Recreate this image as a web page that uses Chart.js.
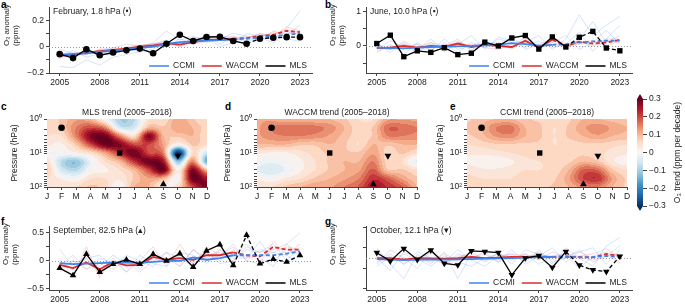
<!DOCTYPE html>
<html>
<head>
<meta charset="utf-8">
<script src="https://cdn.jsdelivr.net/npm/chart.js@4.4.1/dist/chart.umd.min.js"></script>
<style>
  body { margin: 0; width: 685px; height: 308px; overflow: hidden; position: relative; background: #fff;
         font-family: "Liberation Sans", Arial, sans-serif; }
  canvas { position: absolute; }
  .lbl { position: absolute; font-weight: bold; font-size: 10px; line-height: 10px; color: #000; }
</style>
</head>
<body>
<div class="lbl" style="left:1px;top:0px">a</div>
<div class="lbl" style="left:325px;top:0px">b</div>
<div class="lbl" style="left:1px;top:102px">c</div>
<div class="lbl" style="left:225px;top:102px">d</div>
<div class="lbl" style="left:450px;top:102px">e</div>
<div class="lbl" style="left:1px;top:217px">f</div>
<div class="lbl" style="left:325px;top:217px">g</div>

<canvas id="pa" width="318" height="92" style="left:0;top:0"></canvas>
<canvas id="pb" width="321" height="92" style="left:317px;top:0"></canvas>
<canvas id="pc" width="214" height="102" style="left:0;top:104px"></canvas>
<canvas id="pd" width="214" height="102" style="left:212px;top:104px"></canvas>
<canvas id="pe" width="204" height="102" style="left:430px;top:104px"></canvas>
<canvas id="cb" width="55" height="130" style="left:630px;top:85px"></canvas>
<canvas id="pf" width="318" height="89" style="left:0;top:219px"></canvas>
<canvas id="pg" width="321" height="89" style="left:317px;top:219px"></canvas>

<script>
// ---------- line panels: data ----------
const years = [2005, 2006, 2007, 2008, 2009, 2010, 2011, 2012, 2013, 2014, 2015, 2016, 2017, 2018, 2019, 2020, 2021, 2022, 2023];
const xTicks = [2005, 2008, 2011, 2014, 2017, 2020, 2023];

// a: February, 1.8 hPa
const mlsA   = [-0.057, -0.087, -0.02, -0.065, -0.045, -0.028, -0.015, -0.05, 0.022, 0.09, 0.043, 0.073, 0.075, 0.043, 0.022, 0.06, 0.068, 0.072, 0.072];
const ccmiA  = [-0.06, -0.055, -0.05, -0.04, -0.03, -0.02, -0.01, 0.0, 0.02, 0.035, 0.04, 0.045, 0.05, 0.055, 0.06, 0.07, 0.08, 0.09, 0.1];
const waccmA = [-0.07, -0.06, -0.045, -0.035, -0.025, -0.015, 0.0, 0.01, 0.025, 0.015, 0.035, 0.05, 0.055, 0.06, 0.065, 0.08, 0.09, 0.12, 0.11];
const ccmiMembersA = [
  [-0.15, -0.16, -0.1, -0.14, -0.08, -0.06, -0.04, -0.02, 0.03, 0.02, 0.06, 0.08, 0.02, 0.07, 0.06, 0.1, 0.05, 0.14, 0.27],
  [-0.02, -0.05, -0.06, -0.02, -0.01, 0.02, 0.0, 0.03, 0.12, 0.05, 0.08, 0.03, 0.06, 0.1, 0.08, 0.04, 0.12, 0.09, 0.16],
  [-0.07, -0.03, -0.08, -0.05, -0.04, -0.03, -0.02, 0.0, 0.0, 0.06, 0.02, 0.07, 0.0, 0.03, 0.1, 0.08, 0.1, 0.06, 0.04],
  [-0.05, -0.09, -0.04, -0.06, -0.06, -0.01, -0.04, 0.02, 0.05, 0.0, 0.07, 0.05, 0.09, 0.06, 0.04, 0.07, 0.03, 0.1, 0.12]
];
const waccmMembersA = [
  [-0.09, -0.05, -0.06, -0.02, -0.03, -0.02, 0.01, 0.02, 0.04, 0.0, 0.05, 0.07, 0.06, 0.08, 0.06, 0.1, 0.08, 0.15, 0.12],
  [-0.05, -0.08, -0.03, -0.05, -0.01, -0.03, -0.01, 0.0, 0.01, 0.03, 0.02, 0.04, 0.05, 0.05, 0.08, 0.07, 0.11, 0.1, 0.1],
  [-0.07, -0.06, -0.05, -0.04, -0.04, 0.0, 0.01, 0.02, 0.03, 0.02, 0.04, 0.06, 0.05, 0.04, 0.07, 0.09, 0.09, 0.13, 0.09]
];

// b: June, 10.0 hPa
const mlsB   = [0.07, 0.31, -0.31, -0.14, -0.185, -0.05, -0.25, -0.21, 0.11, 0.0, 0.23, 0.3, -0.09, 0.26, -0.03, 0.25, 0.42, -0.06, -0.14];
const ccmiB  = [-0.05, -0.06, -0.07, -0.05, -0.03, -0.02, -0.01, 0.0, 0.02, 0.04, 0.08, 0.05, 0.01, 0.03, 0.05, 0.1, 0.13, 0.15, 0.16];
const waccmB = [-0.06, -0.05, 0.0, -0.05, 0.0, -0.03, 0.07, -0.03, 0.03, 0.0, -0.03, 0.15, -0.05, 0.18, 0.0, 0.12, 0.07, 0.1, 0.17];
const ccmiMembersB = [
  [0.1, -0.2, 0.15, -0.1, 0.2, -0.15, 0.05, 0.3, -0.1, 0.25, 0.15, 0.1, 0.3, -0.1, 0.2, 0.9, 0.3, 0.6, 0.85],
  [-0.2, 0.05, -0.25, 0.1, -0.15, 0.2, -0.1, 0.0, 0.15, -0.05, 0.3, -0.1, 0.05, 0.2, -0.05, 0.2, 0.7, 0.1, 0.3],
  [0.0, -0.1, 0.05, -0.2, 0.1, 0.0, 0.2, -0.15, 0.1, 0.05, -0.05, 0.25, -0.1, 0.1, 0.3, -0.1, 0.1, 0.45, 0.05],
  [-0.1, 0.15, -0.05, 0.05, -0.25, 0.1, -0.2, 0.1, -0.05, 0.2, 0.1, -0.05, 0.15, -0.05, 0.05, 0.4, -0.15, 0.2, 0.6]
];
const waccmMembersB = [
  [0.05, -0.1, 0.1, -0.15, 0.05, -0.05, 0.15, -0.1, 0.05, 0.1, -0.1, 0.2, -0.1, 0.25, 0.05, 0.15, 0.0, 0.2, 0.2],
  [-0.15, 0.0, -0.05, 0.05, -0.1, 0.05, 0.0, 0.05, -0.05, -0.1, 0.05, 0.1, 0.0, 0.1, -0.05, 0.1, 0.15, 0.0, 0.15],
  [-0.05, -0.1, 0.05, -0.05, 0.1, -0.15, 0.1, -0.05, 0.1, 0.0, -0.05, 0.15, -0.05, 0.2, 0.0, 0.05, 0.1, 0.15, 0.1]
];

// f: September, 82.5 hPa
const mlsF   = [-0.13, -0.26, 0.12, -0.2, -0.06, 0.02, -0.06, 0.12, 0.0, 0.13, -0.11, 0.18, 0.29, -0.08, 0.46, -0.05, 0.03, -0.02, 0.1];
const ccmiF  = [-0.04, -0.06, -0.05, -0.04, -0.03, -0.03, -0.03, -0.02, 0.0, 0.0, 0.06, 0.02, 0.05, 0.1, 0.1, 0.1, 0.1, 0.13, 0.17];
const waccmF = [-0.07, -0.13, -0.03, -0.15, -0.02, -0.08, -0.07, 0.07, 0.02, 0.05, 0.02, 0.1, 0.1, 0.15, 0.1, 0.08, 0.25, 0.2, 0.2];
const ccmiMembersF = [
  [0.2, -0.1, 0.1, -0.15, 0.0, -0.2, 0.1, -0.05, -0.1, 0.15, 0.1, -0.05, 0.2, 0.1, 0.3, 0.05, -0.1, 0.3, 0.5],
  [-0.1, 0.1, -0.15, 0.05, -0.05, 0.05, -0.15, 0.1, 0.05, -0.1, 0.2, 0.0, 0.1, 0.25, 0.0, 0.2, 0.15, 0.1, -0.05],
  [0.0, -0.15, 0.05, 0.1, -0.1, 0.1, 0.0, -0.1, 0.15, 0.05, 0.0, 0.15, -0.05, 0.0, 0.2, 0.15, 0.3, 0.0, 0.25],
  [-0.15, 0.0, -0.05, -0.1, 0.1, -0.05, -0.05, 0.05, -0.05, 0.1, -0.05, 0.1, 0.15, 0.05, 0.05, 0.35, 0.0, 0.2, 0.1]
];
const waccmMembersF = [
  [0.05, -0.3, 0.25, -0.3, 0.05, -0.2, 0.0, 0.25, -0.1, 0.3, -0.05, 0.25, 0.1, 0.3, 0.0, -0.05, 0.35, 0.1, 0.3],
  [-0.2, 0.0, -0.15, -0.05, -0.15, 0.0, -0.2, 0.0, 0.15, -0.1, 0.2, 0.05, 0.2, 0.0, 0.25, 0.15, 0.2, 0.3, 0.1],
  [-0.05, -0.15, 0.05, -0.25, 0.0, -0.1, -0.05, 0.1, 0.0, 0.05, -0.1, 0.15, 0.0, 0.2, 0.05, 0.1, 0.15, 0.25, 0.2]
];

// g: October, 12.1 hPa
const mlsG   = [0.26, -0.15, 0.46, -0.08, 0.38, -0.26, -0.34, 0.35, 0.31, 0.26, -0.82, 0.0, 0.12, -0.46, 0.31, -0.35, -0.58, -0.66, 0.08];
const ccmiG  = [-0.05, -0.08, -0.1, -0.08, -0.06, -0.08, -0.06, -0.05, -0.03, -0.02, 0.0, 0.02, 0.05, 0.05, 0.05, 0.04, 0.05, 0.1, 0.05];
const waccmG = [0.0, 0.0, -0.08, 0.0, -0.02, -0.03, 0.0, 0.05, 0.0, 0.02, 0.05, 0.05, 0.08, 0.05, 0.08, 0.05, 0.03, 0.2, 0.1];
const ccmiMembersG = [
  [0.5, -0.3, -1.0, 0.2, -0.3, 0.3, -1.0, 0.2, -0.2, 0.3, -0.3, 0.4, 0.2, -0.3, 0.5, 0.0, -0.4, 0.6, 1.0],
  [-0.3, 0.4, 0.0, -0.5, 0.3, -0.4, 0.2, 0.0, 0.3, -0.2, 0.4, -0.3, 0.1, 0.5, -0.2, 0.3, 0.5, -0.3, 0.4],
  [0.0, -0.6, 0.3, 0.0, -0.4, 0.1, -0.2, -0.4, 0.0, 0.2, -0.1, 0.2, -0.3, 0.1, 0.2, -0.5, 0.1, 0.3, -0.2],
  [-0.4, 0.1, -0.3, 0.3, 0.0, -0.2, 0.4, -0.1, -0.4, 0.1, 0.2, -0.2, 0.4, -0.2, 0.0, 0.4, -0.2, 0.1, 0.6]
];
const waccmMembersG = [
  [0.2, -0.1, 0.0, -0.2, 0.3, -0.1, 0.0, 0.3, -0.1, 0.2, 0.0, 0.2, -0.1, 0.3, 0.0, 0.1, 0.2, 0.45, 0.0],
  [-0.2, 0.2, -0.3, 0.1, -0.2, 0.2, -0.1, 0.0, 0.2, -0.2, 0.1, -0.1, 0.3, -0.1, 0.2, 0.0, -0.1, 0.1, 0.2],
  [0.1, -0.2, 0.2, -0.1, 0.0, -0.3, 0.1, 0.1, -0.1, 0.0, 0.2, 0.1, 0.0, 0.1, 0.1, 0.3, 0.0, 0.2, -0.3]
];

// ---------- trend maps: data ----------
const months = ['J', 'F', 'M', 'A', 'M', 'J', 'J', 'A', 'S', 'O', 'N', 'D'];
const levels = [1, 1.78, 3.16, 5.62, 10, 17.8, 31.6, 56.2, 100];   // hPa, rows of the grids below
const pressureTicks = [1, 2, 3, 4, 5, 6, 7, 8, 9, 10, 20, 30, 40, 50, 60, 70, 80, 90, 100];
const pressureLabels = { 1: '10⁰', 10: '10¹', 100: '10²' };

const mlsTrend = [
  [0.06, 0.08, 0.12, 0.10, 0.00, -0.10, -0.08, 0.05, 0.05, 0.12, 0.08, 0.05],
  [0.06, 0.08, 0.15, 0.20, 0.15, -0.05, -0.05, 0.10, 0.08, 0.12, 0.10, 0.06],
  [0.05, 0.05, 0.15, 0.28, 0.30, 0.15, 0.05, 0.28, 0.10, 0.08, 0.10, 0.05],
  [0.03, 0.02, 0.08, 0.20, 0.30, 0.28, 0.20, 0.20, 0.12, 0.00, 0.08, 0.05],
  [0.00, 0.00, 0.02, 0.05, 0.12, 0.22, 0.30, 0.20, 0.15, -0.30, 0.05, -0.06],
  [0.05, -0.08, -0.12, -0.02, 0.05, 0.10, 0.22, 0.30, 0.25, -0.12, 0.15, -0.15],
  [0.08, -0.05, -0.08, 0.00, 0.02, 0.05, 0.10, 0.20, 0.30, 0.02, 0.28, 0.10],
  [0.05, 0.02, 0.00, 0.05, 0.05, 0.03, 0.08, 0.12, 0.10, 0.00, 0.30, 0.25],
  [0.04, 0.05, 0.05, 0.08, 0.06, 0.00, 0.10, 0.10, 0.02, 0.05, 0.20, 0.30]
];
const waccmTrend = [
  [0.12, 0.12, 0.10, 0.10, 0.10, 0.10, 0.08, 0.05, 0.05, 0.12, 0.12, 0.12],
  [0.12, 0.15, 0.17, 0.17, 0.16, 0.14, 0.10, 0.06, 0.08, 0.17, 0.17, 0.15],
  [0.12, 0.14, 0.15, 0.15, 0.14, 0.12, 0.09, 0.06, 0.08, 0.15, 0.15, 0.14],
  [0.10, 0.10, 0.10, 0.08, 0.08, 0.10, 0.08, 0.05, 0.10, 0.08, 0.10, 0.10],
  [0.03, 0.02, 0.02, 0.04, 0.06, 0.08, 0.08, 0.08, 0.12, 0.06, 0.08, 0.05],
  [0.00, -0.02, 0.00, 0.02, 0.05, 0.08, 0.10, 0.10, 0.15, 0.06, 0.05, -0.03],
  [-0.03, -0.05, -0.02, 0.02, 0.05, 0.08, 0.10, 0.12, 0.18, 0.08, 0.08, 0.05],
  [0.02, 0.00, 0.03, 0.05, 0.08, 0.10, 0.12, 0.15, 0.22, 0.18, 0.12, 0.08],
  [0.05, 0.05, 0.08, 0.10, 0.12, 0.12, 0.15, 0.18, 0.25, 0.22, 0.18, 0.10]
];
const ccmiTrend = [
  [0.07, 0.09, 0.10, 0.10, 0.08, 0.07, 0.06, 0.07, 0.10, 0.10, 0.09, 0.08],
  [0.08, 0.10, 0.15, 0.16, 0.10, 0.08, 0.05, 0.08, 0.12, 0.14, 0.12, 0.10],
  [0.07, 0.09, 0.13, 0.14, 0.10, 0.08, 0.05, 0.08, 0.10, 0.12, 0.10, 0.09],
  [0.05, 0.06, 0.07, 0.07, 0.07, 0.07, 0.05, 0.06, 0.07, 0.07, 0.06, 0.05],
  [0.03, 0.03, 0.04, 0.05, 0.06, 0.07, 0.06, 0.06, 0.07, 0.06, 0.04, 0.03],
  [0.02, 0.01, 0.00, 0.02, 0.04, 0.05, 0.06, 0.07, 0.10, 0.08, 0.03, 0.01],
  [0.04, 0.03, 0.03, 0.04, 0.05, 0.05, 0.06, 0.10, 0.18, 0.17, 0.08, 0.05],
  [0.06, 0.05, 0.05, 0.05, 0.06, 0.06, 0.07, 0.12, 0.20, 0.22, 0.12, 0.07],
  [0.06, 0.06, 0.06, 0.06, 0.07, 0.07, 0.08, 0.10, 0.14, 0.15, 0.10, 0.07]
];

// the four sampled points (month index, pressure)
const markerMonth = [1, 5, 8, 9];
const markerPressure = [1.8, 10, 82.5, 12.1];
const markerStyle = ['circle', 'rect', 'triangle', 'triangle'];
const markerRotation = [0, 0, 0, 180];

const colorbarTicks = [-0.3, -0.2, -0.1, 0, 0.1, 0.2, 0.3];

// ---------- helpers ----------
const BLUE = '#3f84ee';
const RED = '#dc2b2b';
const AXIS = '#444';
const FONT = '"Liberation Sans", Arial, sans-serif';

Chart.defaults.font.family = FONT;
Chart.defaults.font.size = 8.5;
Chart.defaults.color = '#222';
Chart.defaults.animation = false;

const fmt = v => (v < 0 ? '−' : '') + String(Math.abs(+v.toFixed(2)));
const clamp = (v, a, b) => Math.max(a, Math.min(b, v));

// RdBu reversed
const cmapStops = ['#053061', '#2166ac', '#4393c3', '#92c5de', '#d1e5f0', '#f7f7f7', '#fddbc7', '#f4a582', '#d6604d', '#b2182b', '#67001f']
  .map(h => [parseInt(h.slice(1, 3), 16), parseInt(h.slice(3, 5), 16), parseInt(h.slice(5, 7), 16)]);
function cmap(v) {
  const t = clamp((v + 0.3) / 0.6, 0, 1) * (cmapStops.length - 1);
  const i = Math.min(Math.floor(t), cmapStops.length - 2), f = t - i;
  const a = cmapStops[i], b = cmapStops[i + 1];
  return [0, 1, 2].map(k => Math.round(a[k] + (b[k] - a[k]) * f));
}

function catmull(p0, p1, p2, p3, t) {
  return 0.5 * (2 * p1 + (-p0 + p2) * t + (2 * p0 - 5 * p1 + 4 * p2 - p3) * t * t + (-p0 + 3 * p1 - 3 * p2 + p3) * t * t * t);
}
const logLevels = levels.map(Math.log10);
function sampleGrid(grid, m, lp) {
  let j = 0;
  while (j < logLevels.length - 2 && lp > logLevels[j + 1]) j++;
  const ty = clamp((lp - logLevels[j]) / (logLevels[j + 1] - logLevels[j]), 0, 1);
  const i = clamp(Math.floor(m), 0, 10), tx = clamp(m - i, 0, 1);
  const row = r => {
    const R = grid[clamp(r, 0, levels.length - 1)];
    return catmull(R[clamp(i - 1, 0, 11)], R[i], R[i + 1], R[clamp(i + 2, 0, 11)], tx);
  };
  return catmull(row(j - 1), row(j), row(j + 1), row(j + 2), ty);
}
// filled-contour look: snap to 0.025 bands
const band = v => (Math.floor(v / 0.025) + 0.5) * 0.025;

// ---------- line panels ----------
function linePanel(id, p) {
  const pts = arr => years.map((x, i) => ({ x, y: arr[i] }));
  const dashFrom = x0 => ({ borderDash: c => (c.p0.parsed.x >= x0 ? [4, 2.5] : undefined) });
  const ds = [
    { data: pts(p.mls), borderColor: '#000', backgroundColor: '#000', borderWidth: 1.3,
      pointStyle: p.marker, pointRotation: p.rot || 0, pointRadius: p.r, pointBorderWidth: 0,
      segment: dashFrom(p.mlsDash), clip: false },
    { data: pts(p.ccmi), borderColor: BLUE, borderWidth: 1.8, pointRadius: 0, segment: dashFrom(2018) },
    { data: pts(p.waccm), borderColor: RED, borderWidth: 1.8, pointRadius: 0, segment: dashFrom(2018) }
  ];
  p.ccmiM.forEach(a => ds.push({ data: pts(a), borderColor: 'rgba(95,145,240,0.32)', borderWidth: 0.8, pointRadius: 0 }));
  p.waccmM.forEach(a => ds.push({ data: pts(a), borderColor: 'rgba(230,90,90,0.3)', borderWidth: 0.8, pointRadius: 0 }));

  const deco = {
    id: 'deco',
    beforeDatasetsDraw(chart) {
      const { ctx, chartArea: a, scales: { y } } = chart;
      const y0 = Math.round(y.getPixelForValue(0)) + 0.5;
      ctx.save();
      ctx.strokeStyle = '#999';
      ctx.lineWidth = 1;
      ctx.setLineDash([1, 2]);
      ctx.beginPath(); ctx.moveTo(a.left, y0); ctx.lineTo(a.right, y0); ctx.stroke();
      ctx.restore();
    },
    afterDraw(chart) {
      const { ctx, chartArea: a } = chart;
      ctx.save();
      ctx.font = '8.5px ' + FONT;
      ctx.fillStyle = '#222';
      ctx.textBaseline = 'middle';
      // in-plot title
      ctx.textAlign = 'left';
      ctx.fillText(p.title, a.left + 4, a.top + 5);
      // legend, right aligned
      const items = [['CCMI', BLUE], ['WACCM', RED], ['MLS', '#000']];
      const ly = a.bottom - 7;
      let total = 0;
      items.forEach(([t], k) => { total += 20 + 4 + ctx.measureText(t).width + (k < 2 ? 7 : 0); });
      let x = a.right - 5 - total;
      items.forEach(([t, c]) => {
        ctx.strokeStyle = c; ctx.lineWidth = 1.5;
        ctx.beginPath(); ctx.moveTo(x, ly); ctx.lineTo(x + 20, ly); ctx.stroke();
        x += 24;
        ctx.fillText(t, x, ly);
        x += ctx.measureText(t).width + 7;
      });
      // y title, two lines, rotated (reads bottom to top)
      ctx.font = '8px ' + FONT;
      ctx.translate(0, a.top + 39);
      ctx.rotate(-Math.PI / 2);
      ctx.fillText('O₃ anomaly', 0, a.left + p.ytx[0]);
      ctx.fillText('(ppm)', 0, a.left + p.ytx[1]);
      ctx.restore();
    }
  };

  new Chart(document.getElementById(id), {
    type: 'line',
    data: { datasets: ds },
    options: {
      responsive: false, events: [],
      layout: { padding: { top: 5, right: 6 }, autoPadding: false },
      elements: { line: { tension: 0 } },
      plugins: { legend: { display: false }, tooltip: { enabled: false } },
      scales: {
        x: {
          type: 'linear', min: 2004.2, max: 2023.9,
          afterBuildTicks: s => { s.ticks = xTicks.map(v => ({ value: v })); },
          afterFit: s => { s.height = p.xh; },
          ticks: { autoSkip: false, maxRotation: 0, padding: 2, callback: v => String(v) },
          grid: { drawOnChartArea: false, tickLength: 3, color: AXIS },
          border: { color: AXIS }
        },
        y: {
          min: p.yMin, max: p.yMax,
          afterBuildTicks: s => { s.ticks = p.yTicks.map(v => ({ value: v })); },
          afterFit: s => { s.width = 49; },
          ticks: { padding: 2, callback: v => (p.yLabels.some(l => Math.abs(l - v) < 1e-9) ? fmt(v) : '') },
          grid: { drawOnChartArea: false, tickLength: 3, color: AXIS },
          border: { color: AXIS }
        }
      }
    },
    plugins: [deco]
  });
}

linePanel('pa', { mls: mlsA, ccmi: ccmiA, waccm: waccmA, ccmiM: ccmiMembersA, waccmM: waccmMembersA,
  title: 'February, 1.8 hPa (•)', marker: 'circle', r: 3.3, mlsDash: 2019,
  yMin: -0.2, yMax: 0.3, yTicks: [-0.2, -0.1, 0, 0.1, 0.2], yLabels: [-0.2, 0, 0.2], ytx: [-42, -33], xh: 19 });
linePanel('pb', { mls: mlsB, ccmi: ccmiB, waccm: waccmB, ccmiM: ccmiMembersB, waccmM: waccmMembersB,
  title: 'June, 10.0 hPa (▪)', marker: 'rect', r: 3.8, mlsDash: 2019,
  yMin: -0.78, yMax: 1.12, yTicks: [-0.5, 0, 0.5, 1], yLabels: [0, 1], ytx: [-33, -24], xh: 19 });
linePanel('pf', { mls: mlsF, ccmi: ccmiF, waccm: waccmF, ccmiM: ccmiMembersF, waccmM: waccmMembersF,
  title: 'September, 82.5 hPa (▴)', marker: 'triangle', r: 3.8, mlsDash: 2018,
  yMin: -0.52, yMax: 0.62, yTicks: [-0.5, -0.25, 0, 0.25, 0.5], yLabels: [-0.5, 0, 0.5], ytx: [-43, -34], xh: 18 });
linePanel('pg', { mls: mlsG, ccmi: ccmiG, waccm: waccmG, ccmiM: ccmiMembersG, waccmM: waccmMembersG,
  title: 'October, 12.1 hPa (▾)', marker: 'triangle', rot: 180, r: 3.8, mlsDash: 2019,
  yMin: -1.55, yMax: 1.55, yTicks: [-1.5, -1, -0.5, 0, 0.5, 1, 1.5], yLabels: [-1, 0, 1], ytx: [-33, -24], xh: 18 });

// ---------- trend maps ----------
function heatPanel(id, grid, title, titlePad, yW, rightPad) {
  const heat = {
    id: 'heat',
    beforeDatasetsDraw(chart) {
      const { ctx, chartArea: a, scales: { x, y } } = chart;
      const L = Math.round(a.left), T = Math.round(a.top);
      const W = Math.round(a.right) - L, H = Math.round(a.bottom) - T;
      const img = ctx.createImageData(W, H);
      for (let py = 0; py < H; py++) {
        const lp = Math.log10(y.getValueForPixel(T + py + 0.5));
        for (let px = 0; px < W; px++) {
          const m = x.getValueForPixel(L + px + 0.5);
          const c = cmap(band(sampleGrid(grid, m, lp)));
          const o = (py * W + px) * 4;
          img.data[o] = c[0]; img.data[o + 1] = c[1]; img.data[o + 2] = c[2]; img.data[o + 3] = 255;
        }
      }
      ctx.putImageData(img, L, T);
    },
    afterDraw(chart) {
      const { ctx, chartArea: a } = chart;
      ctx.save();
      ctx.font = '8.5px ' + FONT;
      ctx.fillStyle = '#222';
      ctx.textAlign = 'center';
      ctx.textBaseline = 'middle';
      ctx.fillText(title, (a.left + a.right) / 2, a.top - 6);
      ctx.restore();
    }
  };
  new Chart(document.getElementById(id), {
    type: 'scatter',
    data: {
      datasets: [{
        data: markerMonth.map((m, i) => ({ x: m, y: markerPressure[i] })),
        pointStyle: markerStyle, pointRotation: markerRotation,
        pointRadius: [3.3, 3.8, 4, 4], backgroundColor: '#000', borderColor: '#000', pointBorderWidth: 0, clip: false
      }]
    },
    options: {
      responsive: false, events: [],
      layout: { padding: { top: 15, right: rightPad }, autoPadding: false },
      plugins: { legend: { display: false }, tooltip: { enabled: false } },
      scales: {
        x: {
          type: 'linear', min: 0, max: 11,
          afterBuildTicks: s => { s.ticks = months.map((m, i) => ({ value: i })); },
          afterFit: s => { s.height = 19; },
          ticks: { autoSkip: false, maxRotation: 0, padding: 2, callback: v => months[Math.round(v)] },
          grid: { drawOnChartArea: false, tickLength: 3, color: AXIS },
          border: { color: AXIS }
        },
        y: {
          type: 'logarithmic', reverse: true, min: 1, max: 100,
          afterBuildTicks: s => { s.ticks = pressureTicks.map(v => ({ value: v })); },
          afterFit: s => { s.width = yW; },
          ticks: { autoSkip: false, padding: 2, callback: v => pressureLabels[v] || '' },
          grid: { drawOnChartArea: false, tickLength: 3, color: AXIS },
          border: { color: AXIS },
          title: { display: true, text: 'Pressure (hPa)', padding: { top: titlePad, bottom: 0 }, font: { size: 8.5 } }
        }
      }
    },
    plugins: [heat]
  });
}

heatPanel('pc', mlsTrend, 'MLS trend (2005–2018)', 10, 47, 7);
heatPanel('pd', waccmTrend, 'WACCM trend (2005–2018)', 11, 45, 9);
heatPanel('pe', ccmiTrend, 'CCMI trend (2005–2018)', 6, 37, 7);

// ---------- colour bar ----------
const colorbar = {
  id: 'colorbar',
  beforeDraw(chart) {
    const { ctx, chartArea: a, scales: { y } } = chart;
    ctx.save();
    for (let py = Math.round(a.top); py < Math.round(a.bottom); py++) {
      const c = cmap(y.getValueForPixel(py + 0.5));
      ctx.fillStyle = `rgb(${c[0]},${c[1]},${c[2]})`;
      ctx.fillRect(a.left, py, a.right - a.left, 1);
    }
    const cx = (a.left + a.right) / 2;
    const top = cmap(0.3), bot = cmap(-0.3);
    ctx.fillStyle = `rgb(${top[0]},${top[1]},${top[2]})`;
    ctx.beginPath(); ctx.moveTo(a.left, a.top); ctx.lineTo(a.right, a.top); ctx.lineTo(cx, a.top - 5); ctx.closePath(); ctx.fill();
    ctx.fillStyle = `rgb(${bot[0]},${bot[1]},${bot[2]})`;
    ctx.beginPath(); ctx.moveTo(a.left, a.bottom); ctx.lineTo(a.right, a.bottom); ctx.lineTo(cx, a.bottom + 5); ctx.closePath(); ctx.fill();
    ctx.restore();
  },
  afterDraw(chart) {
    const { ctx, chartArea: a } = chart;
    ctx.save();
    ctx.font = '8.5px ' + FONT;
    ctx.fillStyle = '#222';
    ctx.textAlign = 'center';
    ctx.textBaseline = 'middle';
    ctx.translate(48, (a.top + a.bottom) / 2);
    ctx.rotate(-Math.PI / 2);
    ctx.fillText('O₃ trend (ppm per decade)', 0, 0);
    ctx.restore();
  }
};
new Chart(document.getElementById('cb'), {
  type: 'scatter',
  data: { datasets: [] },
  options: {
    responsive: false, events: [],
    layout: { padding: { left: 7, top: 14, bottom: 9 }, autoPadding: false },
    plugins: { legend: { display: false }, tooltip: { enabled: false } },
    scales: {
      x: { display: false },
      y: {
        position: 'right', min: -0.3, max: 0.3,
        afterBuildTicks: s => { s.ticks = colorbarTicks.map(v => ({ value: v })); },
        afterFit: s => { s.width = 42; },
        ticks: { padding: 2, callback: v => fmt(v) },
        grid: { drawOnChartArea: false, tickLength: 4, color: AXIS },
        border: { display: false }
      }
    }
  },
  plugins: [colorbar]
});
</script>
</body>
</html>
